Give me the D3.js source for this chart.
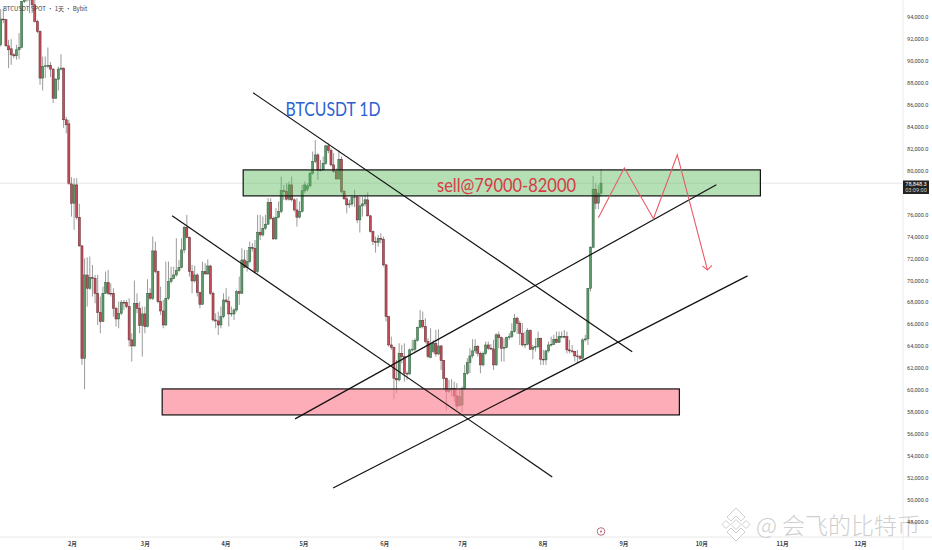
<!DOCTYPE html>
<html lang="zh">
<head>
  <meta charset="utf-8">
  <title>BTCUSDT 1D</title>
  <script src="https://d3js.org/d3.v7.min.js"></script>
  <style type="text/css">
    html, body { margin: 0; padding: 0; background: #fff; overflow: hidden; }
    svg { display: block; }
    .tick text { font-family: Roboto, sans-serif; font-size: 5.6px; fill: #444; }
  </style>
</head>
<body>
  <div id="chart"></div>
  <script type="text/javascript">
    // daily candles, prices in thousand USDT
    const opens = [91.47,93.81,93.75,91.37,91.10,90.55,90.46,91.01,91.22,95.42,95.57,95.63,95.57,95.11,93.59,92.68,88.43,89.49,89.55,89.58,89.25,86.60,88.33,89.25,89.34,84.63,84.26,78.78,77.02,78.69,75.74,73.13,62.88,70.48,69.27,70.24,70.18,68.81,67.05,66.23,68.81,69.78,68.81,68.81,67.44,66.47,66.99,67.99,67.96,67.60,64.56,64.01,67.90,67.44,65.86,66.93,65.77,68.81,68.36,72.67,70.79,68.05,67.20,65.92,68.36,69.88,70.18,70.48,70.88,71.15,72.76,74.83,73.92,70.79,69.94,70.48,68.87,67.81,70.79,70.58,71.30,68.81,66.38,66.29,65.92,66.68,68.20,68.05,66.93,66.93,67.29,68.96,68.81,71.85,71.18,71.70,72.98,72.92,70.79,74.38,74.13,74.74,75.11,77.08,75.65,73.77,75.75,76.26,78.18,78.09,77.39,78.69,77.33,76.41,75.75,76.26,78.15,78.30,78.60,79.76,80.82,81.43,80.00,80.06,80.67,82.25,81.83,80.52,79.91,79.24,81.03,78.09,77.42,76.87,76.96,77.54,77.60,75.50,76.78,76.96,77.33,75.87,74.44,73.53,73.44,73.83,73.74,71.40,66.69,64.10,63.89,61.06,60.91,63.34,63.04,61.52,61.46,63.65,63.71,64.50,65.71,66.32,65.77,64.41,62.95,63.50,64.26,63.28,64.01,62.68,61.06,59.85,60.06,60.15,59.45,58.54,58.63,60.15,61.52,62.49,63.10,63.56,63.95,63.34,62.28,63.34,64.10,63.80,63.74,62.28,65.02,64.77,63.80,63.89,64.80,64.86,65.32,66.54,66.08,65.17,64.10,64.16,65.41,63.71,63.89,63.95,64.71,62.80,62.74,63.56,64.10,64.16,64.62,64.32,64.86,64.88,64.85,63.65,63.56,63.50,63.10,63.04,62.89,64.56,64.65,69.27,73.01,78.30,77.03,77.94];
    const highs = [94.72,94.72,93.81,91.92,91.98,90.71,91.47,92.53,95.48,95.73,95.90,95.90,95.70,95.57,93.75,92.77,90.40,90.40,91.22,89.89,89.34,88.43,89.49,90.61,89.40,84.90,84.62,79.39,79.30,79.30,76.96,73.22,72.00,72.09,72.16,71.40,70.48,70.48,68.51,69.42,70.79,70.94,69.72,69.27,67.60,68.05,68.20,68.20,68.20,68.36,65.16,69.97,68.81,68.05,67.60,67.60,70.09,69.27,73.98,73.52,70.88,69.42,68.20,71.70,71.70,71.24,71.24,73.83,71.85,73.83,74.95,75.96,73.98,71.40,71.33,70.64,68.96,71.70,71.55,71.91,71.40,68.96,66.99,67.14,67.60,68.81,69.27,68.51,67.60,67.44,69.12,70.33,72.92,72.76,72.76,73.52,73.37,73.67,75.96,75.96,75.81,75.96,77.48,77.48,75.81,76.57,77.17,79.45,78.69,78.85,79.00,79.45,77.48,77.48,77.17,78.69,79.00,78.85,79.91,81.73,82.80,81.58,80.97,81.28,82.34,82.49,82.04,81.58,80.20,81.89,81.28,78.24,77.63,77.33,77.78,78.24,77.69,77.63,77.63,77.78,78.00,75.96,74.53,73.98,74.13,74.29,73.98,71.50,66.75,64.86,63.95,62.73,64.25,64.10,64.25,61.70,63.80,64.56,64.71,65.77,67.29,67.14,66.53,64.71,65.62,64.56,65.47,65.53,64.10,62.74,61.15,60.91,60.97,60.76,60.61,60.15,60.30,62.28,62.89,63.80,64.62,64.62,64.10,63.50,63.50,64.41,64.41,64.19,64.56,65.17,65.32,64.86,64.71,64.86,65.17,66.08,66.93,66.69,66.32,66.08,65.32,65.62,65.53,64.10,64.71,65.32,64.77,63.65,63.65,64.41,64.86,65.02,65.32,65.32,65.32,65.47,65.32,64.56,64.10,63.56,63.65,63.19,64.71,65.02,69.30,73.10,79.52,78.85,78.70,80.13];
    const lows = [91.30,93.44,91.31,89.34,89.64,90.25,90.10,90.16,91.13,95.27,95.40,94.35,94.35,93.50,92.53,87.82,87.30,88.43,89.34,88.52,86.15,86.51,87.30,89.13,83.90,83.40,78.69,75.80,74.59,75.50,73.07,62.28,60.06,67.60,69.12,68.51,67.90,65.92,65.16,66.20,68.75,68.66,68.51,66.68,65.77,65.62,66.84,67.29,67.44,63.95,62.58,63.95,66.99,65.16,63.04,65.16,65.71,68.20,68.20,70.64,67.90,66.84,65.62,65.83,68.20,69.72,70.09,70.33,70.79,71.09,72.46,73.83,70.33,68.81,69.78,68.51,67.44,67.75,70.48,70.48,68.66,66.23,65.62,65.01,65.62,66.53,67.90,65.77,66.68,66.38,67.14,67.75,68.75,71.09,70.79,71.55,72.61,70.64,70.64,73.68,73.98,74.59,75.05,75.50,73.68,73.68,75.65,76.11,77.33,77.26,77.26,77.17,76.26,74.89,75.65,76.17,77.93,78.09,78.48,79.61,80.67,79.15,79.91,79.98,80.52,81.58,80.37,79.80,79.15,79.15,77.93,77.33,76.11,76.57,76.72,76.66,75.20,74.35,75.81,76.72,75.81,74.35,73.22,72.52,73.07,73.37,71.25,66.23,63.95,63.65,59.15,59.69,60.76,62.43,60.76,60.91,61.37,63.49,63.49,64.41,65.62,65.60,64.25,62.89,62.89,63.34,63.04,63.19,61.82,60.00,58.12,59.70,59.39,58.94,58.18,58.48,57.93,60.00,61.37,61.52,62.89,63.34,63.04,61.52,62.13,63.19,63.65,63.65,61.82,62.19,63.80,62.58,62.58,63.80,64.56,64.71,65.23,65.11,64.10,63.95,63.80,64.10,63.65,62.80,63.50,63.80,62.28,62.28,62.28,63.40,63.95,64.10,64.26,64.32,64.71,64.71,63.34,63.34,63.34,62.58,62.43,62.74,62.80,64.41,64.10,68.97,72.92,76.48,76.48,77.63];
    const closes = [93.81,93.75,91.37,91.01,90.55,90.46,91.01,91.22,95.42,95.57,95.63,95.57,95.11,93.59,92.68,88.43,89.49,89.55,89.58,89.25,86.60,88.33,89.25,89.34,84.63,84.17,78.84,77.02,78.69,75.74,73.13,62.88,70.48,69.27,70.24,70.18,68.81,67.05,66.23,68.81,69.78,68.81,68.75,67.44,66.47,66.99,67.99,67.96,67.60,64.56,64.01,67.90,67.44,65.86,66.93,65.77,68.81,68.36,72.67,70.79,68.05,67.20,65.92,68.36,69.88,70.18,70.48,70.88,71.15,72.76,74.83,73.92,70.79,69.94,70.48,68.87,67.81,70.79,70.58,71.30,68.81,66.38,66.29,65.92,66.68,68.20,68.05,66.93,66.99,67.29,68.96,68.81,71.85,71.18,71.70,72.98,72.92,70.79,74.38,74.13,74.74,75.11,77.08,75.65,73.77,75.75,76.26,78.18,78.09,77.39,78.69,77.33,76.41,75.75,76.26,78.15,78.69,78.60,79.76,80.82,81.43,80.00,80.06,80.67,82.25,81.83,80.52,79.91,79.24,81.03,78.09,77.42,76.87,76.96,77.54,77.60,75.50,76.78,76.96,77.33,75.87,74.44,73.53,73.44,73.83,73.74,71.40,66.69,64.10,63.89,61.06,60.91,63.34,63.04,61.52,61.46,63.65,63.71,64.50,65.71,66.32,65.77,64.41,63.04,64.19,64.26,63.28,64.01,62.68,61.06,59.85,60.06,60.15,59.45,58.54,59.39,60.15,61.52,62.49,63.10,63.56,63.95,63.34,62.28,63.34,64.10,63.80,63.74,62.28,65.02,64.77,63.80,63.89,64.80,64.86,65.32,66.54,66.08,65.17,64.10,64.16,65.41,63.71,63.89,63.95,64.71,62.80,62.74,63.56,64.10,64.16,64.62,64.32,64.86,64.88,64.85,63.65,63.56,63.50,63.10,63.04,62.89,64.56,64.65,69.27,73.01,78.30,77.03,77.94,78.85];

    const priceTicks = [94,92,90,88,86,84,82,80,76,74,72,70,68,66,64,62,60,58,56,54,52,50,48];
    const lastPrice = 78.8483;
    const lastLabel = ["78,848.3", "03:09:00"];

    // days since 1 Feb and their labels for the time axis
    const monthDays = [0,28,59,89,120,150,181,212,242,273,303];
    const monthNames = ["2月","3月","4月","5月","6月","7月","8月","9月","10月","11月","12月"];

    // drawings, in [bar index, price]
    const downLines = [[[96.3,87.09],[240.9,63.47]], [[65.4,75.87],[210.4,52.07]]];
    const upLines = [[[112.3,57.36],[273,78.7]], [[126.8,51.06],[284.9,70.4]]];
    const sellZone = [92.5,289.8,80.06,77.69];
    const buyZone = [61.6,258.9,60.09,57.72];
    const projection = [[228,75.69],[237.9,80.25],[249,75.6],[258.1,81.43],[269.6,70.94]];

    const w = 932;
    const h = 550;
    const axisX = 903;
    const axisY = 537;

    const svg = d3.select("#chart").append("svg")
      .attr("width", w)
      .attr("height", h)
      .attr("viewBox", `0 0 ${w} ${h}`);

    const xBar = d3.scaleLinear().domain([0, 229]).range([0.7, 601]);
    const xDay = d3.scaleLinear().domain([0, 303]).range([72, 860]);
    const y = d3.scaleLinear().domain([50, 94]).range([499.6, 17]);

    const chartArea = svg.append("g");
    const blur = svg.append("defs").append("filter").attr("id", "soft");
    blur.append("feGaussianBlur").attr("stdDeviation", 0.35);

    // last price line
    chartArea.append("line")
      .attr("x1", 0).attr("x2", axisX)
      .attr("y1", y(lastPrice)).attr("y2", y(lastPrice))
      .attr("stroke", "#e6e6e6")
      .attr("stroke-width", 1);

    const candles = chartArea.append("g").attr("filter", "url(#soft)")
      .selectAll("g")
      .data(opens.map((o, i) => i))
      .enter().append("g");

    candles.append("line")
      .attr("x1", i => xBar(i)).attr("x2", i => xBar(i))
      .attr("y1", i => y(highs[i])).attr("y2", i => y(lows[i]))
      .attr("stroke", "#8f8f8f")
      .attr("stroke-width", 0.9);

    candles.append("rect")
      .attr("x", i => xBar(i) - 1.05)
      .attr("width", 2.1)
      .attr("y", i => y(Math.max(opens[i], closes[i])))
      .attr("height", i => Math.max(0.8, Math.abs(y(opens[i]) - y(closes[i]))))
      .attr("fill", i => closes[i] >= opens[i] ? "#5a9a68" : "#c44d5a")
      .attr("stroke", i => closes[i] >= opens[i] ? "#2e5a3a" : "#5e2a2e")
      .attr("stroke-width", 0.5);

    // zones
    function drawZone(z, fill) {
      chartArea.append("rect")
        .attr("x", xBar(z[0]))
        .attr("width", xBar(z[1]) - xBar(z[0]))
        .attr("y", y(z[2]))
        .attr("height", y(z[3]) - y(z[2]))
        .attr("fill", fill)
        .attr("stroke", "#111")
        .attr("stroke-width", 1.2);
    }
    drawZone(sellZone, "rgba(92,184,92,0.45)");
    drawZone(buyZone, "rgba(252,130,145,0.66)");

    const lineGen = d3.line().x(d => xBar(d[0])).y(d => y(d[1]));

    chartArea.selectAll("path.trend")
      .data(downLines.concat(upLines))
      .enter().append("path")
      .attr("class", "trend")
      .attr("d", lineGen)
      .attr("fill", "none")
      .attr("stroke", "#111")
      .attr("stroke-width", 1.2);

    chartArea.append("path")
      .attr("d", lineGen(projection))
      .attr("fill", "none")
      .attr("stroke", "#ea5a66")
      .attr("stroke-width", 1.1);

    // arrow head on the last leg
    const tip = projection[projection.length - 1];
    const tx = xBar(tip[0]), ty = y(tip[1]);
    chartArea.append("path")
      .attr("d", `M${tx - 5},${ty - 4}L${tx},${ty}L${tx + 4.5},${ty - 4.5}`)
      .attr("fill", "none")
      .attr("stroke", "#ea5a66")
      .attr("stroke-width", 1.1);

    svg.append("text")
      .attr("x", 285.5).attr("y", 115.7)
      .attr("font-family", "Lato, sans-serif")
      .attr("font-size", 18.5)
      .attr("textLength", 95)
      .attr("lengthAdjust", "spacingAndGlyphs")
      .attr("fill", "#2b62d2")
      .text("BTCUSDT 1D");

    svg.append("text")
      .attr("x", 437).attr("y", 192.3)
      .attr("font-family", "Lato, sans-serif")
      .attr("font-size", 19)
      .attr("textLength", 139)
      .attr("lengthAdjust", "spacingAndGlyphs")
      .attr("fill", "#d83a46")
      .text("sell@79000-82000");

    svg.append("text")
      .attr("x", 3).attr("y", 10.5)
      .attr("font-family", "'Noto Sans CJK SC', Roboto, sans-serif")
      .attr("font-size", 6)
      .attr("fill", "#444")
      .text("BTCUSDT SPOT  •  1天  •  Bybit");

    // axes
    svg.append("line")
      .attr("x1", axisX).attr("x2", axisX)
      .attr("y1", 0).attr("y2", h)
      .attr("stroke", "#ececec");
    svg.append("line")
      .attr("x1", 0).attr("x2", w)
      .attr("y1", axisY).attr("y2", axisY)
      .attr("stroke", "#e8e8e8");

    // watermark sits under the axis labels
    const wm = svg.append("g").attr("fill", "#fff").attr("stroke", "#cfcfcf").attr("stroke-width", 1);
    const logo = [
      "M736,519.5L741,524.5L736,529.5L731,524.5Z",
      "M726,520.5L730,524.5L726,528.5L722,524.5Z",
      "M746,520.5L750,524.5L746,528.5L742,524.5Z",
      "M727,517L736,508L745,517L741,521L736,516L731,521Z",
      "M727,532L736,541L745,532L741,528L736,533L731,528Z"
    ];
    wm.selectAll("path").data(logo).enter().append("path").attr("d", d => d);
    svg.append("text")
      .attr("x", 756).attr("y", 533.5)
      .attr("font-family", "'Noto Sans CJK SC', sans-serif")
      .attr("font-size", 23)
      .attr("fill", "#cfcfcf")
      .attr("font-weight", 300)
      .text("@ 会飞的比特币");

    const rightAxis = d3.axisRight(y)
      .tickValues(priceTicks)
      .tickSize(0)
      .tickPadding(4)
      .tickFormat(d => d3.format(",.1f")(d * 1000));
    const gy = svg.append("g")
      .attr("transform", `translate(${axisX},0)`)
      .call(rightAxis);
    gy.select(".domain").remove();

    const bottomAxis = d3.axisBottom(xDay)
      .tickValues(monthDays)
      .tickSize(0)
      .tickPadding(5)
      .tickFormat((d, i) => monthNames[i]);
    const gx = svg.append("g")
      .attr("transform", `translate(0,${axisY})`)
      .call(bottomAxis);
    gx.select(".domain").remove();
    gx.selectAll("text").style("font-family", "'Noto Sans CJK SC', sans-serif").style("font-weight", 700);

    // last price tag
    svg.append("rect")
      .attr("x", axisX).attr("y", 180.5)
      .attr("width", 26).attr("height", 13.5)
      .attr("fill", "#222");
    svg.selectAll("text.tag")
      .data(lastLabel)
      .enter().append("text")
      .attr("class", "tag")
      .attr("x", axisX + 13)
      .attr("y", (d, i) => 186 + i * 6)
      .attr("text-anchor", "middle")
      .attr("font-family", "Roboto, sans-serif")
      .attr("font-size", 5.6)
      .attr("fill", (d, i) => i ? "#ccc" : "#fff")
      .text(d => d);

    // event marker
    const mark = svg.append("g").attr("transform", "translate(601,531.5)");
    mark.append("circle").attr("r", 3.8).attr("fill", "#fff").attr("stroke", "#a8485f").attr("stroke-width", 0.8);
    mark.append("path").attr("d", "M0.8,-2.4L-1.2,0.3H0L-0.8,2.4L1.3,-0.5H0Z").attr("fill", "#a8485f");
  </script>
</body>
</html>
